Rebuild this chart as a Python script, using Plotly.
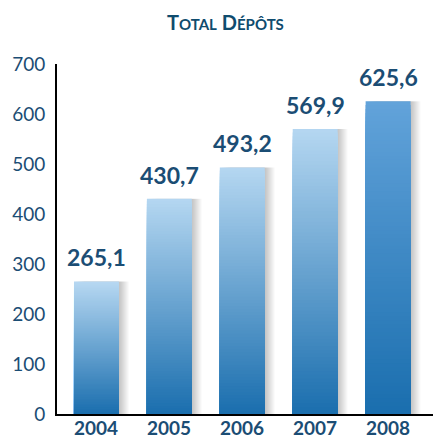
import plotly.graph_objects as go

years = ["2004", "2005", "2006", "2007", "2008"]
values = [265.1, 430.7, 493.2, 569.9, 625.6]
value_labels = ["265,1", "430,7", "493,2", "569,9", "625,6"]
y_ticks = [0, 100, 200, 300, 400, 500, 600, 700]

# style
bottom_rgb = (26, 110, 174)
top_rgbs = [(183, 216, 242), (181, 215, 241), (181, 215, 241), (181, 215, 241), (98, 163, 218)]
text_color = "#1b4d74"
title_color = "#0f4c6e"
font_family = "Lato, 'Open Sans', sans-serif"
BAR_W = 0.616
N = 80

xi = list(range(len(years)))

fig = go.Figure()

# soft shadows to the right of the bars
px = 1 / 72.9
for s in range(1, 11):
    fig.add_trace(go.Bar(
        x=xi, y=values, width=BAR_W, offset=-BAR_W / 2 + s * px,
        marker=dict(color="rgba(0,0,0,0.025)", line=dict(width=0)),
        hoverinfo="skip", showlegend=False,
    ))

# gradient bars: overlaid bars of decreasing fractions of each value
def mix(a, b, t):
    return "rgb(%d,%d,%d)" % tuple(round(a[i] + (b[i] - a[i]) * t) for i in range(3))

for k in range(N):
    frac = (N - k) / N
    t = (N - k - 0.5) / N
    fig.add_trace(go.Bar(
        x=xi,
        y=[v * frac for v in values],
        width=BAR_W,
        marker=dict(color=[mix(bottom_rgb, top_rgbs[i], t) for i in range(len(values))],
                    line=dict(width=0)),
        hoverinfo="skip", showlegend=False,
    ))

for i, (v, lab) in enumerate(zip(values, value_labels)):
    fig.add_annotation(
        x=i, y=v, xref="x", yref="y", text=f"<b>{lab}</b>", showarrow=False,
        yanchor="bottom", yshift=8,
        font=dict(family=font_family, size=23, color=text_color),
    )

for i, yr in enumerate(years):
    fig.add_annotation(
        x=i, y=0, xref="x", yref="paper", text=f"<b>{yr}</b>", showarrow=False,
        yanchor="top", yshift=-1, borderpad=0,
        font=dict(family=font_family, size=19, color=text_color),
    )

fig.add_annotation(
    xref="paper", yref="paper", x=0.447, y=1.0, yshift=28, xanchor="center", yanchor="bottom",
    text="<b>T<span style='font-size:15px'>OTAL</span> D<span style='font-size:15px'>ÉPÔTS</span></b>",
    showarrow=False, font=dict(family=font_family, size=20, color=title_color),
)

fig.update_layout(
    width=433, height=439,
    margin=dict(l=57, r=0, t=64, b=25),
    barmode="overlay",
    plot_bgcolor="white", paper_bgcolor="white",
    showlegend=False,
    xaxis=dict(
        range=[-0.541, 4.616],
        showline=True, linecolor="black", linewidth=2,
        showgrid=False, ticks="", zeroline=False,
        showticklabels=False,
        fixedrange=True,
    ),
    yaxis=dict(
        range=[0, 700], tickvals=y_ticks,
        showline=True, linecolor="black", linewidth=2,
        showgrid=False, zeroline=False, ticks="",
        ticklabelstandoff=6,
        tickfont=dict(family=font_family, size=19, color=text_color),
        fixedrange=True,
    ),
)

fig.write_html(
    "out.html",
    config={"displayModeBar": False},
    post_script="document.body.style.margin='0';document.body.style.overflow='hidden';",
)
